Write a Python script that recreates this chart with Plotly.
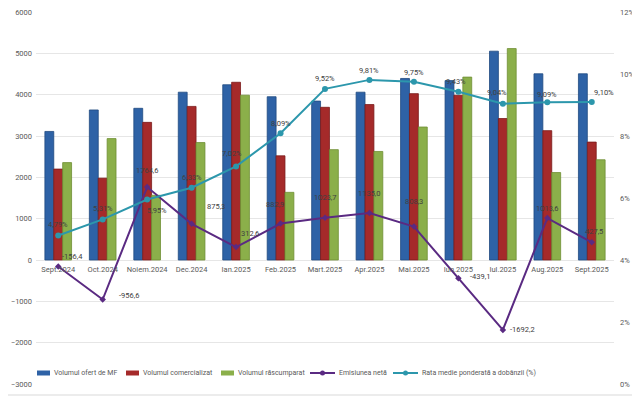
import plotly.graph_objects as go

categories = ["Sept.2024", "Oct.2024", "Noiem.2024", "Dec.2024", "Ian.2025", "Feb.2025",
              "Mart.2025", "Apr.2025", "Mai.2025", "Iun.2025", "Iul.2025", "Aug.2025", "Sept.2025"]
volum_oferit = [3110, 3630, 3670, 4060, 4240, 3950, 3845, 4060, 4392, 4340, 5052, 4505, 4505]
volum_comercializat = [2200, 1980, 3330, 3716, 4300, 2520, 3694, 3761, 4025, 3986, 3423, 3130, 2853]
volum_rascumparat = [2356, 2937, 1565, 2841, 3987, 1637, 2670, 2626, 3217, 4425, 5115, 2116, 2425]
emisiunea_neta = [-156.4, -956.6, 1764.6, 875.3, 312.6, 882.9, 1023.7, 1135.0, 808.3, -439.1, -1692.2, 1013.6, 427.5]
rata_medie = [4.79, 5.31, 5.95, 6.33, 7.02, 8.09, 9.52, 9.81, 9.75, 9.43, 9.04, 9.09, 9.10]
series_names = ["Volumul ofert de MF", "Volumul comercializat", "Volumul răscumparat",
                "Emisiunea netă", "Rata medie ponderată a dobânzii (%)"]

y_range = [-3000, 6000]
y2_range = [0, 12]

# label offsets (pixels) for data labels
em_shift = [(14, 10), (26, 4), (0, 17), (24, 17), (14, 14), (-6, 19), (0, 20), (0, 20), (0, 25), (22, 2), (20, 0), (0, 10), (2, 11)]
rt_shift = [(0, 11), (0, 11), (10, -11), (0, 10), (-4, 13), (0, 10), (0, 10), (0, 9), (0, 9), (-2, 10), (-6, 11), (0, 8), (12, 9)]

FONT = "Roboto, sans-serif"
GRAY = "#595959"

blue = "#2E62A6"
red = "#A52A2A"
green = "#8BAF4A"
purple = "#5A2A82"
teal = "#2C97AC"
colors = [blue, red, green, purple, teal]

fig = go.Figure()
fig.add_trace(go.Bar(x=categories, y=volum_oferit, name=series_names[0],
                     marker=dict(color=blue, line=dict(color="#1F4A80", width=0.8))))
fig.add_trace(go.Bar(x=categories, y=volum_comercializat, name=series_names[1],
                     marker=dict(color=red, line=dict(color="#7A1A1A", width=0.8))))
fig.add_trace(go.Bar(x=categories, y=volum_rascumparat, name=series_names[2],
                     marker=dict(color=green, line=dict(color="#6E8E33", width=0.8))))
fig.add_trace(go.Scatter(x=categories, y=emisiunea_neta, name=series_names[3], mode="lines+markers",
                         line=dict(color=purple, width=2), marker=dict(size=5, color=purple, symbol="diamond")))
fig.add_trace(go.Scatter(x=categories, y=rata_medie, name=series_names[4],
                         mode="lines+markers", yaxis="y2",
                         line=dict(color=teal, width=2), marker=dict(size=6, color=teal)))

def fmt(v, dec, suffix=""):
    return (f"{v:.{dec}f}").replace(".", ",") + suffix

for i, c in enumerate(categories):
    dx, dy = em_shift[i]
    fig.add_annotation(x=c, y=emisiunea_neta[i], xref="x", yref="y", text=fmt(emisiunea_neta[i], 1),
                       showarrow=False, xshift=dx, yshift=dy, font=dict(family=FONT, size=7.5, color="#404040"))
    dx, dy = rt_shift[i]
    fig.add_annotation(x=c, y=rata_medie[i], xref="x", yref="y2", text=fmt(rata_medie[i], 2, "%"),
                       showarrow=False, xshift=dx, yshift=dy, font=dict(family=FONT, size=7.5, color="#404040"))

# page has an 8px body margin: size the figure so the picture lands where the reference has it
OFF = 8
W, H = 640 - OFF, 397 - OFF
ml, mr, mt, mb = 36 - OFF, 26, 12 - OFF, 13
pw, ph = W - ml - mr, H - mt - mb

def px(xi):   # image x -> paper x
    return (xi - OFF - ml) / pw

def py(yi):   # image y -> paper y
    return (H - mb - (yi - OFF)) / ph

# outer chart border (right and bottom edges visible)
fig.add_shape(type="line", xref="paper", yref="paper", x0=px(638), x1=px(638), y0=py(395), y1=py(OFF),
              line=dict(color="#D9D9D9", width=1))
fig.add_shape(type="line", xref="paper", yref="paper", x0=px(OFF), x1=px(638), y0=py(395), y1=py(395),
              line=dict(color="#D9D9D9", width=1))

# legend (drawn manually to keep it on one row like the reference)
leg_y = py(373)
sym_x = [37, 126, 221, 310, 393]
for i, name in enumerate(series_names):
    x0 = sym_x[i]
    if i < 3:
        fig.add_shape(type="rect", xref="paper", yref="paper", x0=px(x0), x1=px(x0 + 13),
                      y0=leg_y - 2.5 / ph, y1=leg_y + 2.5 / ph, fillcolor=colors[i], line=dict(width=0))
        tx = x0 + 15
    else:
        fig.add_shape(type="line", xref="paper", yref="paper", x0=px(x0), x1=px(x0 + 25),
                      y0=leg_y, y1=leg_y, line=dict(color=colors[i], width=2))
        fig.add_shape(type="circle", xref="paper", yref="paper", x0=px(x0 + 10), x1=px(x0 + 15),
                      y0=leg_y - 2.5 / ph, y1=leg_y + 2.5 / ph, fillcolor=colors[i], line=dict(width=0))
        tx = x0 + 27
    fig.add_annotation(xref="paper", yref="paper", x=px(tx), y=leg_y, text=name, showarrow=False,
                       xanchor="left", yanchor="middle", font=dict(family=FONT, size=7, color=GRAY))

zero_pos = (0 - y_range[0]) / (y_range[1] - y_range[0])
x_range = [-0.5, len(categories) - 0.5]

fig.update_layout(
    width=W, height=H,
    margin=dict(l=ml, r=mr, t=mt, b=mb, autoexpand=False),
    paper_bgcolor="white", plot_bgcolor="white",
    barmode="group", bargap=0.4, bargroupgap=0.0,
    font=dict(family=FONT, size=7.5, color=GRAY),
    showlegend=False,
    xaxis=dict(type="category", range=x_range, anchor="free", position=zero_pos, showline=False, showgrid=False,
               zeroline=False, ticks="", ticklabelstandoff=3,
               tickfont=dict(family=FONT, size=7.5, color=GRAY), automargin=False),
    yaxis=dict(range=y_range, dtick=1000, showgrid=True, gridcolor="#E6E6E6", gridwidth=1,
               zeroline=False, showline=False, ticks="", ticklabelstandoff=3, ticklabeloverflow="allow",
               tickfont=dict(family=FONT, size=7.5, color=GRAY), automargin=False),
    yaxis2=dict(range=y2_range, dtick=2, ticksuffix="%", overlaying="y", side="right", showgrid=False,
                zeroline=False, showline=False, ticks="", ticklabelstandoff=5, ticklabeloverflow="allow",
                tickfont=dict(family=FONT, size=7.5, color=GRAY), automargin=False),
)

fig.write_html("out.html")
